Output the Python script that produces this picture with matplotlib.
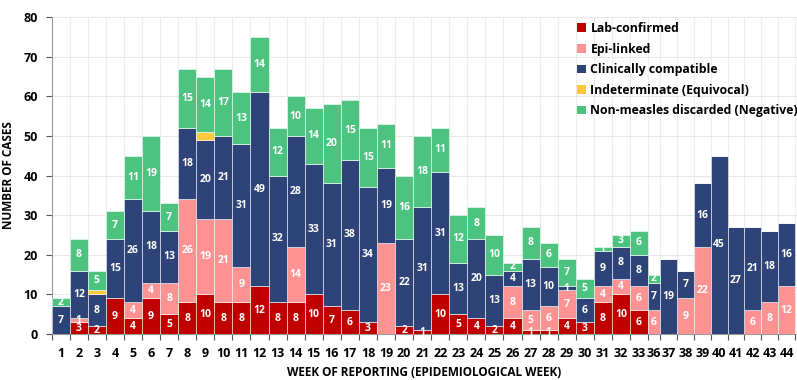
import numpy as np
import matplotlib
matplotlib.use("Agg")
import matplotlib.pyplot as plt
from matplotlib.ticker import MultipleLocator, FixedLocator

plt.rcParams['font.family'] = ['Open Sans', 'DejaVu Sans']

# Epidemiological weeks of reporting
weeks = ['1', '2', '3', '4', '5', '6', '7', '8', '9', '10', '11', '12', '13', '14',
         '15', '16', '17', '18', '19', '20', '21', '22', '23', '24', '25', '26', '27',
         '28', '29', '30', '31', '32', '33', '36', '37', '38', '39', '40', '41', '42',
         '43', '44']

lab_confirmed = [0, 3, 2, 9, 4, 9, 5, 8, 10, 8, 8, 12, 8, 8, 10, 7, 6, 3, 0, 2, 1,
                 10, 5, 4, 2, 4, 1, 1, 4, 3, 8, 10, 6, 0, 0, 0, 0, 0, 0, 0, 0, 0]
epi_linked = [0, 1, 0, 0, 4, 4, 8, 26, 19, 21, 9, 0, 0, 14, 0, 0, 0, 0, 23, 0, 0,
              0, 0, 0, 0, 8, 5, 6, 7, 0, 4, 4, 6, 6, 0, 9, 22, 0, 0, 6, 8, 12]
clinically_compatible = [7, 12, 8, 15, 26, 18, 13, 18, 20, 21, 31, 49, 32, 28, 33, 31,
                         38, 34, 19, 22, 31, 31, 13, 20, 13, 4, 13, 10, 1, 6, 9, 8, 8,
                         7, 19, 7, 16, 45, 27, 21, 18, 16]
indeterminate = [0, 0, 1, 0, 0, 0, 0, 0, 2, 0, 0, 0, 0, 0, 0, 0, 0, 0, 0, 0, 0,
                 0, 0, 0, 0, 0, 0, 0, 0, 0, 0, 0, 0, 0, 0, 0, 0, 0, 0, 0, 0, 0]
non_measles_discarded = [2, 8, 5, 7, 11, 19, 7, 15, 14, 17, 13, 14, 12, 10, 14, 20,
                         15, 15, 11, 16, 18, 11, 12, 8, 10, 2, 8, 6, 7, 5, 1, 3, 6, 2,
                         0, 0, 0, 0, 0, 0, 0, 0]

series = [
    ('Lab-confirmed', lab_confirmed, '#C00000', True),
    ('Epi-linked', epi_linked, '#FF9393', True),
    ('Clinically compatible', clinically_compatible, '#2E4378', True),
    ('Indeterminate (Equivocal)', indeterminate, '#FFC83D', False),
    ('Non-measles discarded (Negative)', non_measles_discarded, '#4CC47F', True),
]

# Category slot widths: the week-36 slot is squeezed and the later weeks are narrower
slot = np.array([1.0] * 33 + [0.66] + [0.935] * 8)
edges = np.concatenate([[0.0], np.cumsum(slot)])
centers = (edges[:-1] + edges[1:]) / 2

fig = plt.figure(figsize=(7.97, 3.80), dpi=100)
ax = fig.add_axes([0.0649, 0.121, 0.935, 0.834])

bottom = np.zeros(len(weeks))
handles = []
for name, vals, color, labelled in series:
    vals = np.array(vals, dtype=float)
    bars = ax.bar(centers, vals, width=slot, bottom=bottom, color=color,
                  edgecolor=(1, 1, 1, 0.55), linewidth=0.7, label=name, zorder=3)
    handles.append(bars)
    if labelled:
        ax.bar_label(bars, labels=[str(int(v)) if v > 0 else '' for v in vals],
                     label_type='center', color='white', fontsize=7.5,
                     fontweight='bold', zorder=4)
    bottom += vals

ax.set_xlim(0, edges[-1] + 0.1)
ax.set_ylim(0, 80)

ax.yaxis.set_major_locator(MultipleLocator(10))
ax.xaxis.set_major_locator(FixedLocator(centers))
ax.set_xticklabels(weeks)
ax.xaxis.set_minor_locator(FixedLocator(edges))

ax.tick_params(axis='x', which='major', length=0, pad=9, labelsize=9)
ax.tick_params(axis='x', which='minor', length=4, color='#555555', width=0.8)
ax.tick_params(axis='y', which='major', length=4, color='#555555', width=0.8,
               labelsize=9, pad=6)
for lbl in ax.get_xticklabels() + ax.get_yticklabels():
    lbl.set_fontweight('bold')

ax.grid(axis='y', which='major', color='#E8E8E8', linewidth=0.8, zorder=0)
ax.grid(axis='x', which='minor', color='#EDEDED', linewidth=0.8, zorder=0)

for side in ('top', 'right'):
    ax.spines[side].set_visible(False)
for side in ('left', 'bottom'):
    ax.spines[side].set_color('#999999')
    ax.spines[side].set_linewidth(0.8)

ax.set_ylabel('NUMBER OF CASES', fontsize=8.5, fontweight='bold', labelpad=6)
ax.set_xlabel('WEEK OF REPORTING (EPIDEMIOLOGICAL WEEK)', fontsize=8.5,
              fontweight='bold', labelpad=4.5)

leg = fig.legend(handles=handles, loc='upper left',
                 bbox_to_anchor=(577 / 797, 1 - 22 / 380), frameon=False,
                 handlelength=0.7, handleheight=0.7, handletextpad=0.4,
                 labelspacing=0.62, borderaxespad=0, borderpad=0,
                 prop={'size': 8.8, 'weight': 'bold'})
for h in leg.legend_handles:
    h.set_edgecolor('none')

fig.savefig('out.png', dpi=100, facecolor='white')
